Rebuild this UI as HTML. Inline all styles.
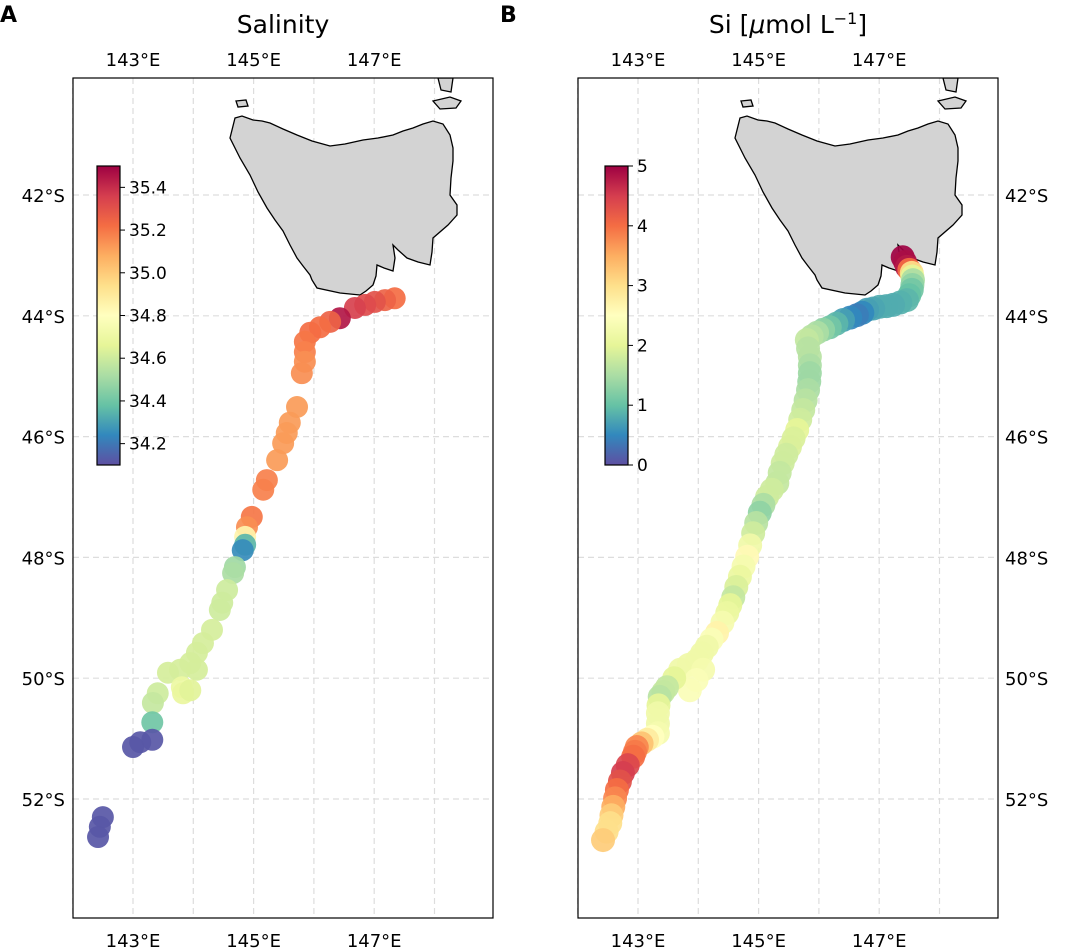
<!DOCTYPE html>
<html><head><meta charset="utf-8">
<style>
body{margin:0;background:#fff;}
svg{display:block;font-family:"DejaVu Sans","Liberation Sans",sans-serif;}
</style></head>
<body>
<svg id="fig" width="1069" height="950" viewBox="0 0 1069 950">
<defs>
<linearGradient id="cgrad" x1="0" y1="1" x2="0" y2="0">
<stop offset="0" stop-color="#5e4fa2"/><stop offset="0.1" stop-color="#3288bd"/>
<stop offset="0.2" stop-color="#66c2a5"/><stop offset="0.3" stop-color="#abdda4"/>
<stop offset="0.4" stop-color="#e6f598"/><stop offset="0.5" stop-color="#ffffbf"/>
<stop offset="0.6" stop-color="#fee08b"/><stop offset="0.7" stop-color="#fdae61"/>
<stop offset="0.8" stop-color="#f46d43"/><stop offset="0.9" stop-color="#d53e4f"/>
<stop offset="1" stop-color="#9e0142"/>
</linearGradient>
<clipPath id="clipA"><rect x="73" y="78" width="420" height="840"/></clipPath>
<clipPath id="clipB"><rect x="578" y="78" width="420" height="840"/></clipPath>
</defs>
</svg>
<script>
// ---- data ----
const salLon=[147.34,147.18,147.01,146.85,146.68,146.43,146.27,146.10,145.94,145.85,145.85,145.85,145.80,145.72,145.60,145.55,145.49,145.39,145.22,145.16,144.97,144.89,144.86,144.86,144.82,144.69,144.66,144.56,144.48,144.44,144.31,144.16,144.06,143.95,144.06,143.78,143.58,143.81,143.83,143.95,143.41,143.33,143.32,143.32,143.12,143.00,142.50,142.45,142.42];
const salLat=[-43.71,-43.74,-43.77,-43.82,-43.87,-44.04,-44.10,-44.19,-44.28,-44.43,-44.60,-44.76,-44.95,-45.51,-45.77,-45.94,-46.11,-46.39,-46.72,-46.88,-47.33,-47.50,-47.66,-47.79,-47.88,-48.16,-48.26,-48.54,-48.75,-48.87,-49.20,-49.42,-49.58,-49.75,-49.86,-49.86,-49.91,-50.15,-50.25,-50.20,-50.25,-50.41,-50.73,-51.02,-51.06,-51.14,-52.30,-52.46,-52.63];
const salVal=[35.22,35.25,35.3,35.32,35.35,35.45,35.25,35.22,35.22,35.2,35.18,35.15,35.15,35.12,35.12,35.12,35.12,35.12,35.18,35.18,35.2,35.15,34.85,34.35,34.25,34.5,34.52,34.6,34.6,34.6,34.62,34.62,34.62,34.62,34.62,34.62,34.62,34.7,34.68,34.65,34.6,34.58,34.4,34.12,34.12,34.12,34.12,34.12,34.12];
const siLon=[147.39,147.43,147.46,147.50,147.54,147.55,147.56,147.55,147.54,147.50,147.46,147.35,147.23,147.12,147.01,146.90,146.80,146.72,146.63,146.52,146.40,146.29,146.18,146.07,145.97,145.88,145.80,145.82,145.85,145.85,145.85,145.84,145.82,145.78,145.74,145.69,145.64,145.58,145.52,145.46,145.40,145.35,145.31,145.22,145.14,145.08,145.02,144.96,144.91,144.86,144.81,144.75,144.69,144.63,144.58,144.53,144.48,144.40,144.31,144.22,144.14,144.06,143.98,143.84,143.70,144.08,143.97,143.86,143.60,143.48,143.42,143.36,143.34,143.33,143.33,143.33,143.24,143.15,143.06,142.98,142.95,142.92,142.83,142.75,142.70,142.65,142.62,142.59,142.56,142.54,142.48,142.42];
const siLat=[-43.03,-43.11,-43.19,-43.24,-43.29,-43.35,-43.41,-43.49,-43.57,-43.66,-43.74,-43.78,-43.82,-43.84,-43.85,-43.88,-43.90,-43.95,-43.99,-44.03,-44.07,-44.13,-44.19,-44.23,-44.28,-44.34,-44.40,-44.54,-44.68,-44.82,-44.95,-45.09,-45.23,-45.40,-45.56,-45.72,-45.89,-46.03,-46.17,-46.30,-46.44,-46.60,-46.77,-46.88,-47.00,-47.13,-47.26,-47.43,-47.60,-47.80,-47.99,-48.15,-48.32,-48.49,-48.66,-48.79,-48.92,-49.08,-49.25,-49.36,-49.48,-49.59,-49.70,-49.78,-49.86,-49.86,-50.03,-50.20,-50.00,-50.15,-50.23,-50.31,-50.45,-50.58,-50.75,-50.91,-50.97,-51.02,-51.08,-51.14,-51.22,-51.30,-51.44,-51.57,-51.71,-51.85,-51.99,-52.13,-52.27,-52.40,-52.54,-52.68];
const siVal=[5.0,4.9,4.8,4.0,3.0,2.0,1.5,1.3,1.1,1.0,0.9,0.85,0.8,0.8,0.8,0.75,0.7,0.5,0.4,0.5,0.7,0.9,1.1,1.3,1.5,1.6,1.7,1.6,1.6,1.5,1.4,1.4,1.5,1.6,1.7,1.8,2.0,1.9,1.9,1.8,1.8,1.7,1.7,1.8,1.8,1.5,1.3,1.6,1.8,2.2,2.6,2.3,2.1,1.9,1.7,2.0,2.1,2.3,2.7,2.4,2.2,2.2,2.2,2.2,2.2,2.3,2.4,2.4,2.0,1.7,1.7,1.6,2.0,2.2,2.2,2.3,2.5,2.8,3.3,3.8,3.9,4.0,4.4,4.5,4.3,4.0,3.8,3.5,3.2,3.0,3.0,3.2];
const lonTicks=[143,145,147];
const latTicks=[42,44,46,48,50,52];
const salTicks=[34.2,34.4,34.6,34.8,35.0,35.2,35.4];
const siTicks=[0,1,2,3,4,5];

const NS="http://www.w3.org/2000/svg";
const svg=document.getElementById('fig');
function mk(tag,attrs,parent){const e=document.createElementNS(NS,tag);for(const k in attrs)e.setAttribute(k,attrs[k]);(parent||svg).appendChild(e);return e;}
const stops=["#5e4fa2","#3288bd","#66c2a5","#abdda4","#e6f598","#ffffbf","#fee08b","#fdae61","#f46d43","#d53e4f","#9e0142"];
function hx(c){return [parseInt(c.slice(1,3),16),parseInt(c.slice(3,5),16),parseInt(c.slice(5,7),16)];}
function cmap(t){t=Math.max(0,Math.min(1,t));const p=t*10,i=Math.min(9,Math.floor(p)),f=p-i;const a=hx(stops[i]),b=hx(stops[i+1]);return 'rgb('+a.map((v,k)=>Math.round(v+(b[k]-v)*f)).join(',')+')';}
function xS(lon,off){return off+133+(lon-143)*60.3;}
function yS(lat){return 195+(-lat-42)*60.4;}
const tas=[[235,118],[242,116],[253,120],[262,121],[270,123],[283,129],[297,135],[312,141],[330,146],[345,144],[363,140],[378,138],[393,135],[403,131],[413,128],[423,124],[433,121],[443,124],[450,135],[453,148],[453,161],[451,178],[450,195],[457,205],[457,215],[448,225],[433,238],[432,252],[430,265],[418,262],[407,258],[398,250],[393,245],[395,258],[393,271],[384,268],[377,265],[376,276],[373,285],[366,291],[360,295],[340,293],[317,288],[312,280],[310,275],[303,266],[297,258],[290,245],[283,231],[275,220],[267,208],[258,192],[250,175],[240,158],[230,138]];
const isl1=[[438,78],[453,78],[451,92],[441,90]];
const isl2=[[433,101],[450,97],[461,101],[456,108],[440,109]];
const isl3=[[236,101],[246,100],[248,106],[238,107]];

function panel(id,off,title,lbl,lonA,latA,valA,vmin,vmax,cticks,cbx,latRight,rad){
  const g=mk('g',{});
  
  
  const L=73+off,T=78,W=420,H=840;
  for(let lo=142;lo<=148;lo++){const x=xS(lo,off);const ln=mk('line',{x1:x,y1:T,x2:x,y2:T+H,stroke:'#dddddd','stroke-width':1.2,'stroke-dasharray':'6,4'},g);}
  for(const la of latTicks){const y=yS(-la);const ln=mk('line',{x1:L,y1:y,x2:L+W,y2:y,stroke:'#dddddd','stroke-width':1.2,'stroke-dasharray':'6,4'},g);}
  const cg=mk('g',{'clip-path':'url(#clip'+(off?'B':'A')+')'},g);
  for(const poly of [tas,isl1,isl2,isl3]){const p=mk('polygon',{points:poly.map(q=>(q[0]+off)+','+q[1]).join(' '),fill:'#d3d3d3',stroke:'#000','stroke-width':1.3},cg);}
  for(let i=0;i<lonA.length;i++){const c=mk('circle',{cx:xS(lonA[i],off),cy:yS(latA[i]),r:rad,fill:cmap((valA[i]-vmin)/(vmax-vmin)),'fill-opacity':0.92},cg);}
  const fr=mk('rect',{x:L,y:T,width:W,height:H,fill:'none',stroke:'#000','stroke-width':1.2},g);
  for(const lo of lonTicks){for(const y of [66,947]){const t=mk('text',{x:xS(lo,off),y:y,'font-size':18,'text-anchor':'middle'},g);t.textContent=lo+'°E';}}
  for(const la of latTicks){const t=mk('text',{x:latRight?1005:65,y:yS(-la)+7,'font-size':18,'text-anchor':latRight?'start':'end'},g);t.textContent=la+'°S';}
  const tt=mk('text',{x:L+W/2,y:33,'font-size':25,'text-anchor':'middle'},g);tt.innerHTML=title;
  const pl=mk('text',{x:off?off-5:0,y:22,'font-size':22,'font-weight':'bold'},g);pl.textContent=lbl;
  const cT=166,cH=299,cW=23;
  const cb=mk('rect',{x:cbx,y:cT,width:cW,height:cH,fill:'url(#cgrad)',stroke:'#000','stroke-width':1.2},g);
  for(const v of cticks){const y=cT+cH-(v-vmin)/(vmax-vmin)*cH;mk('line',{x1:cbx+cW,y1:y,x2:cbx+cW+5,y2:y,stroke:'#000'},g);const t=mk('text',{x:cbx+cW+9,y:y+6,'font-size':17},g);t.textContent=Number.isInteger(v)&&vmax<10?String(v):v.toFixed(1);}
}
panel('salinity',0,'Salinity','A',salLon,salLat,salVal,34.1,35.5,salTicks,97,false,11);
panel('silicate',505,'Si [<tspan font-style="italic">μ</tspan>mol L<tspan baseline-shift="super" font-size="16">−1</tspan>]','B',siLon,siLat,siVal,0,5,siTicks,605,true,12);
</script>
</body></html>
